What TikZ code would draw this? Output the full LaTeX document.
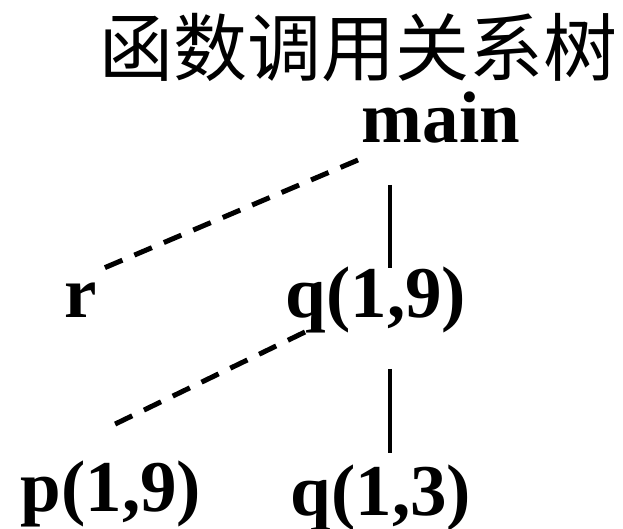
\documentclass[tikz,border=0pt]{standalone}
\usepackage{fontspec}
\setmainfont{Liberation Serif}
\newfontfamily\cjk{Noto Sans CJK SC}
\usepackage{tikz}
\usetikzlibrary{positioning, calc}
\tikzstyle{title} = [inner sep=0pt, anchor=base, font=\cjk\fontsize{74}{80}\selectfont]
\tikzstyle{func} = [inner sep=0pt, anchor=base, font=\bfseries\fontsize{73}{80}\selectfont]
\tikzstyle{call} = [line width=4pt]
\tikzstyle{skip} = [line width=5pt, dash pattern=on 19pt off 13pt]

\begin{document}
\begin{tikzpicture}[x=1pt, y=1pt]
    \useasboundingbox (0,0) rectangle (623,529);
    \node (title) [title] at (358,453) {函数调用关系树};
    \node (main) [func] at (441,386) {main};
    \node (r) [func] at (80.5,211) {r};
    \node (q19) [func] at (376,211) {q(1,9)};
    \node (p19) [func] at (111,17) {p(1,9)};
    \node (q13) [func] at (381,13) {q(1,3)};

    \coordinate (mainL) at (358,369);
    \coordinate (mainB) at (390,344);
    \coordinate (rT) at (97,258);
    \coordinate (q19T) at (390,261);
    \coordinate (q19L) at (305,197);
    \coordinate (q19B) at (390,160);
    \coordinate (p19T) at (107,101);
    \coordinate (q13T) at (390,76);

    \draw [skip] (mainL) -- (rT);
    \draw [call] (mainB) -- (q19T);
    \draw [skip] (q19L) -- (p19T);
    \draw [call] (q19B) -- (q13T);
\end{tikzpicture}
\end{document}
